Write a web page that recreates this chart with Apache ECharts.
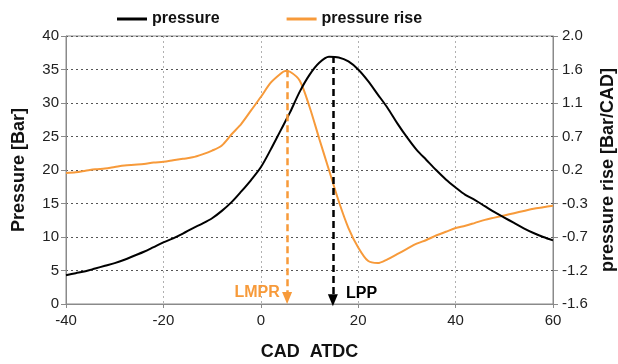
<!DOCTYPE html>
<html>
<head>
<meta charset="utf-8">
<script src="https://cdn.jsdelivr.net/npm/echarts@6/dist/echarts.min.js"></script>
<style>html,body{margin:0;padding:0;background:#fff}#c{width:618px;height:364px}</style>
</head>
<body>
<div id="c"></div>
<script>
var cad = [-40,-38,-36,-34,-32,-30,-28,-26,-24,-22,-20,-18,-16,-14,-12,-10,-8,-6,-4,-2,0,2,4,5,6,8,10,12,14,16,18,20,22,24,26,28,30,32,34,36,38,40,42,44,46,48,50,52,54,56,58,60];
var pressure = [4.3,4.6,4.9,5.3,5.7,6.1,6.6,7.2,7.8,8.5,9.2,9.8,10.5,11.3,12.0,12.8,13.9,15.2,16.8,18.5,20.4,23.0,25.8,27.2,28.6,31.7,34.2,36.0,36.9,36.8,36.2,35.0,33.3,31.3,29.3,27.0,24.9,23.0,21.5,20.0,18.6,17.4,16.3,15.5,14.6,13.7,12.9,12.1,11.3,10.6,10.0,9.5];
var pressureRise = [0.16,0.17,0.19,0.21,0.22,0.24,0.26,0.27,0.28,0.30,0.31,0.33,0.35,0.37,0.41,0.46,0.53,0.68,0.82,1.00,1.18,1.37,1.49,1.53,1.52,1.40,1.05,0.62,0.20,-0.22,-0.58,-0.84,-1.02,-1.05,-1.00,-0.93,-0.86,-0.79,-0.74,-0.68,-0.63,-0.58,-0.55,-0.51,-0.47,-0.44,-0.41,-0.38,-0.35,-0.32,-0.30,-0.28];
var xTicks = [-40,-20,0,20,40,60];
var leftTicks = [0,5,10,15,20,25,30,35,40];
var rightTickLabels = ['-1.6','-1.2','-0.7','-0.3','0.2','0.7','1.1','1.6','2.0'];
var lmpr = {cad: 5.4, rise: 1.54};
var lpp = {cad: 14.8, pressure: 37.0};

var BLACK = '#000000', ORANGE = '#f79a3a';
var FONT = 'Liberation Sans, Arial, sans-serif';

function pairs(xs, ys){ return xs.map(function(x,i){ return [x, ys[i]]; }); }

var titleStyle = {fontFamily: FONT, fontSize: 18, fontWeight: 'bold', color: '#111'};
var tickStyle = {fontFamily: FONT, fontSize: 15, color: '#222'};

var chart = echarts.init(document.getElementById('c'), null, {renderer:'canvas'});
chart.setOption({
  animation: false,
  textStyle: {fontFamily: FONT},
  grid: {left: 66, right: 65, top: 36, bottom: 60, show: true, borderColor: '#8a8a8a', borderWidth: 1,
    containLabel: false, outerBoundsMode: 'none'},
  legend: {
    data: ['pressure', 'pressure rise'],
    left: 112, top: 6, icon: 'rect', itemWidth: 30, itemHeight: 3, itemGap: 67,
    textStyle: {fontFamily: FONT, fontSize: 16, fontWeight: 'bold', color: '#111'}
  },
  xAxis: {
    type: 'value', min: -40, max: 60, interval: 20,
    name: 'CAD  ATDC', nameLocation: 'middle', nameGap: 39,
    nameTextStyle: titleStyle,
    axisLine: {show: true, onZero: false, lineStyle: {color: '#8a8a8a', width: 1}},
    axisTick: {show: true, length: 4, lineStyle: {color: '#8a8a8a'}},
    axisLabel: Object.assign({margin: 9,
      formatter: function(v){ return xTicks.indexOf(v) >= 0 ? String(v) : ''; }}, tickStyle),
    splitLine: {show: true, lineStyle: {color: '#b0b0b0', type: [2,3], width: 1}}
  },
  yAxis: [
    {
      type: 'value', min: 0, max: 40, interval: 5, position: 'left',
      name: 'Pressure [Bar]', nameLocation: 'middle', nameGap: 38,
      nameTextStyle: titleStyle,
      axisLine: {show: true, onZero: false, lineStyle: {color: '#8a8a8a', width: 1}},
      axisTick: {show: true, length: 5, lineStyle: {color: '#8a8a8a'}},
      axisLabel: Object.assign({margin: 7,
        formatter: function(v){ return leftTicks.indexOf(v) >= 0 ? String(v) : ''; }}, tickStyle),
      splitLine: {show: true, lineStyle: {color: '#555', type: [2,3], width: 1}}
    },
    {
      type: 'value', min: 0, max: 8, interval: 1, position: 'right',
      name: 'pressure rise [Bar/CAD]', nameLocation: 'middle', nameGap: 41,
      nameTextStyle: titleStyle,
      axisLine: {show: true, onZero: false, lineStyle: {color: '#8a8a8a', width: 1}},
      axisTick: {show: true, length: 5, lineStyle: {color: '#8a8a8a'}},
      axisLabel: Object.assign({margin: 9,
        formatter: function(v){ return rightTickLabels[Math.round(v)]; }}, tickStyle),
      splitLine: {show: false}
    },
    {
      type: 'value', min: -1.6, max: 2.0, position: 'right', show: false,
      splitLine: {show: false}
    }
  ],
  series: [
    {
      name: 'pressure', type: 'line', yAxisIndex: 0, showSymbol: false, smooth: 0.3,
      data: pairs(cad, pressure), color: BLACK,
      lineStyle: {color: BLACK, width: 2}, z: 3,
      markLine: {
        silent: true, symbol: ['none', 'triangle'], symbolSize: [10, 12],
        lineStyle: {color: BLACK, width: 2.5, type: [7, 4]},
        label: {show: false},
        data: [[{coord: [lpp.cad, lpp.pressure]}, {coord: [lpp.cad, 0.55]}]]
      },
      markPoint: {
        silent: true, symbol: 'circle', symbolSize: 0,
        label: {show: true, position: 'right', distance: 0, formatter: 'LPP', fontFamily: FONT, fontSize: 16, fontWeight: 'bold', color: BLACK},
        data: [{coord: [17.5, 1.6]}]
      }
    },
    {
      name: 'pressure rise', type: 'line', yAxisIndex: 2, showSymbol: false, smooth: 0.3,
      data: pairs(cad, pressureRise), color: ORANGE,
      lineStyle: {color: ORANGE, width: 2}, z: 2,
      markLine: {
        silent: true, symbol: ['none', 'triangle'], symbolSize: [10, 12],
        lineStyle: {color: ORANGE, width: 2.5, type: [7, 4]},
        label: {show: false},
        data: [[{coord: [lmpr.cad, lmpr.rise]}, {coord: [lmpr.cad, -1.52]}]]
      },
      markPoint: {
        silent: true, symbol: 'circle', symbolSize: 0,
        label: {show: true, position: 'left', distance: 0, formatter: 'LMPR', fontFamily: FONT, fontSize: 16, fontWeight: 'bold', color: ORANGE},
        data: [{coord: [3.9, -1.45]}]
      }
    }
  ]
});
</script>
</body>
</html>
